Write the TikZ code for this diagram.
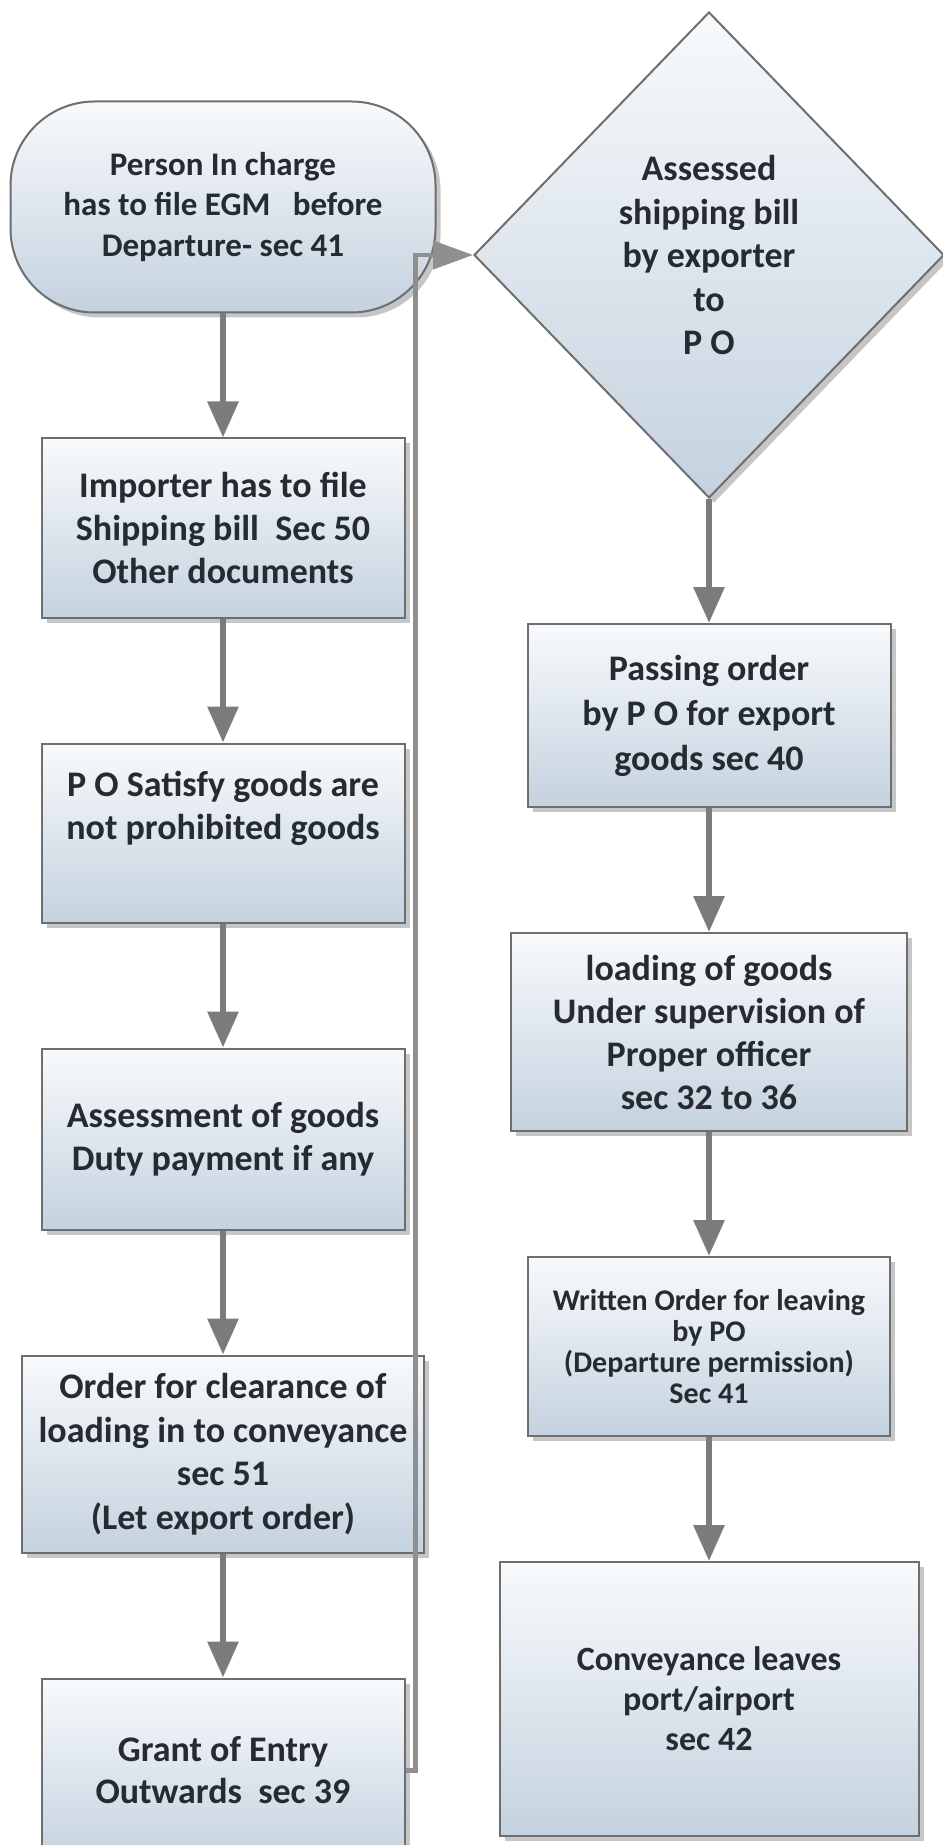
\documentclass[tikz,border=0pt]{standalone}
\usepackage{fontspec}
\setmainfont{Carlito}
\usetikzlibrary{arrows.meta,positioning,shapes.geometric,shadows}
\definecolor{edgegrey}{HTML}{6E6E6E}
\definecolor{boxtop}{HTML}{F8FAFC}
\definecolor{boxbot}{HTML}{C4D2DF}
\definecolor{inkgrey}{HTML}{262A31}
\definecolor{arrowgrey}{HTML}{7B7B7B}

\begin{document}
\begin{tikzpicture}[x=0.5pt, y=-0.5pt,
  node distance=62pt,
  box/.style={draw=edgegrey, line width=1pt, top color=boxtop, bottom color=boxbot, drop shadow={shadow xshift=2.5pt, shadow yshift=-2.5pt, opacity=.45}, text=inkgrey, align=center, inner sep=2pt, minimum width=181.5pt, minimum height=89.5pt, font=\bfseries\fontsize{18}{21.5}\selectfont},
  term/.style={box, rounded corners=42pt, minimum width=212.5pt, minimum height=105.5pt, font=\bfseries\fontsize{16.5}{20.25}\selectfont},
  decision/.style={box, diamond, minimum width=235pt, minimum height=243pt, font=\bfseries\fontsize{18}{21.75}\selectfont},
  arr/.style={-{Triangle[width=15pt,length=18pt]}, line width=3pt, arrowgrey},
  back/.style={-{Triangle[width=14pt,length=20pt]}, line width=2.2pt, arrowgrey!85}
]
\useasboundingbox (0,0) rectangle (942,1845);

% left column
\node[term] (egm) at (223,207) {Person In charge\\has to file EGM\ \ \ before\\Departure- sec 41};
\node[box, below=of egm] (sb) {Importer has to file\\Shipping bill\ \ Sec 50\\Other documents};
\node[box, below=of sb] (po) {P O Satisfy goods are\\not prohibited goods\\\strut};
\node[box, below=of po, minimum height=90.5pt] (assess) {Assessment of goods\\Duty payment if any};
\node[box, below=of assess, minimum width=201pt, minimum height=98.5pt, font=\bfseries\fontsize{18}{21.8}\selectfont] (leo) {Order for clearance of\\loading in to conveyance\\sec 51\\(Let export order)};
\node[box, below=of leo, minimum height=92pt, font=\bfseries\fontsize{18}{21}\selectfont] (grant) {Grant of Entry\\Outwards\ \ sec 39};

% right column
\node[decision] (asb) at (709,255) {Assessed\\shipping bill\\by exporter\\to\\P O};
\node[box, below=of asb, minimum height=91.5pt, font=\bfseries\fontsize{18}{22.5}\selectfont] (pass) {Passing order\\by P O for export\\goods sec 40};
\node[box, below=of pass, minimum width=198pt, minimum height=99pt] (load) {loading of goods\\Under supervision of\\Proper officer\\sec 32 to 36};
\node[box, below=of load, minimum width=181pt, font=\bfseries\fontsize{15}{15.5}\selectfont] (leave) {Written Order for leaving\\by PO\\(Departure permission)\\Sec 41};
\node[box, below=of leave, minimum width=209.5pt, minimum height=137pt, font=\bfseries\fontsize{17}{20}\selectfont] (conv) {Conveyance leaves\\port/airport\\sec 42};

\draw[arr] (egm)--(sb); \draw[arr] (sb)--(po); \draw[arr] (po)--(assess);
\draw[arr] (assess)--(leo); \draw[arr] (leo)--(grant);
\draw[arr] (asb)--(pass); \draw[arr] (pass)--(load); \draw[arr] (load)--(leave);
\draw[arr] (leave)--(conv);
\draw[back] (grant.east) -- ++(10,0) |- (asb.west);
\end{tikzpicture}
\end{document}
